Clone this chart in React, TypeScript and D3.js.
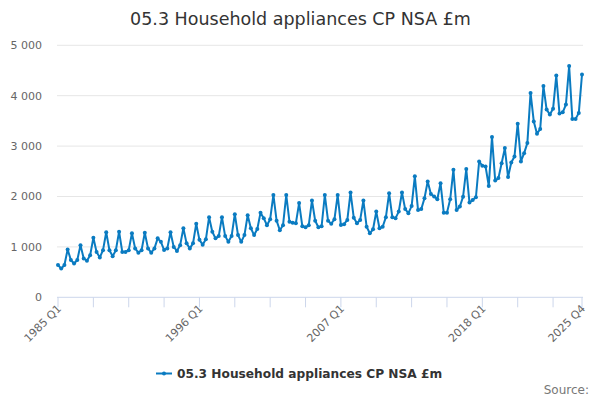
import React from "react";
import * as d3 from "d3";

const years: number[] = d3.range(1985, 2026);
const quarterLabels: string[] = years.flatMap((y) => ["Q1", "Q2", "Q3", "Q4"].map((q) => `${y} ${q}`));

const values: number[] = [
  640, 570, 640, 950,
  740, 670, 740, 1035,
  770, 725, 835, 1180,
  900, 790, 935, 1290,
  935, 815, 935, 1300,
  900, 900, 935, 1270,
  970, 885, 935, 1280,
  970, 885, 970, 1170,
  1100, 940, 970, 1290,
  1000, 920, 1035, 1370,
  1070, 970, 1070, 1460,
  1140, 1045, 1150, 1590,
  1300, 1170, 1215, 1590,
  1215, 1100, 1215, 1650,
  1235, 1100, 1235, 1630,
  1370, 1235, 1355, 1680,
  1570, 1430, 1550, 2030,
  1520, 1330, 1430, 2030,
  1500, 1480, 1470, 1870,
  1410, 1390, 1430, 1920,
  1520, 1390, 1410, 2030,
  1520, 1460, 1550, 2030,
  1435, 1450, 1535, 2080,
  1580, 1470, 1535, 1920,
  1400, 1270, 1350, 1700,
  1370, 1400, 1590, 2065,
  1590, 1570, 1700, 2080,
  1750, 1670, 1810, 2400,
  1730, 1750, 1965, 2300,
  2050, 2000, 1945, 2265,
  1680, 1680, 1945, 2530,
  1730, 1800, 1995, 2545,
  1880, 1930, 1985, 2695,
  2610, 2595, 2210, 3180,
  2315, 2365, 2660, 2960,
  2385, 2675, 2795, 3445,
  2695, 2860, 3060, 4055,
  3490, 3245, 3340, 4190,
  3725, 3625, 3740, 4400,
  3645, 3670, 3825, 4590,
  3540, 3540, 3655, 4420,
];

const yTicks: number[] = [0, 1000, 2000, 3000, 4000, 5000];
const tickIdx: number[] = [...d3.range(0, 164, 11), 163];
const labelIdx: number[] = [0, 44, 88, 132, 163];

const title = "05.3 Household appliances CP NSA £m";
const seriesName = "05.3 Household appliances CP NSA £m";
const color = "#0a7bc1";
const font = "'DejaVu Sans', sans-serif";

export default function App() {
  const x = d3.scaleLinear().domain([0, values.length - 1]).range([58, 582]);
  const y = d3.scaleLinear().domain([0, 5000]).range([297.3, 45.3]);
  const line = d3
    .line<number>()
    .x((_, i) => x(i))
    .y((d) => y(d));
  const fmt = (v: number) => d3.format(",")(v).replace(/,/g, " ");

  return (
    <svg
      width={600}
      height={400}
      style={{ position: "absolute", left: 0, top: 0, fontFamily: font }}
    >
      <rect width={600} height={400} fill="#fff" />
      <text x={300.5} y={25} textAnchor="middle" fontSize={17.5} fill="#333">
        {title}
      </text>
      {yTicks.map((t) => (
        <g key={t}>
          {t > 0 && (
            <line x1={57} x2={583} y1={y(t)} y2={y(t)} stroke="#e6e6e6" strokeWidth={1} />
          )}
          <text x={42} y={y(t)} dy="0.35em" textAnchor="end" fontSize={11} fill="#666">
            {fmt(t)}
          </text>
        </g>
      ))}
      <line x1={57} x2={583} y1={y(0)} y2={y(0)} stroke="#ccd6eb" strokeWidth={1} />
      {tickIdx.map((i) => (
        <line key={i} x1={x(i)} x2={x(i)} y1={y(0)} y2={y(0) + 10} stroke="#ccd6eb" strokeWidth={1} />
      ))}
      {labelIdx.map((i) => (
        <text
          key={i}
          transform={`translate(${x(i) + 4},${y(0) + 12}) rotate(-45)`}
          textAnchor="end"
          fontSize={11}
          fill="#666"
        >
          {quarterLabels[i]}
        </text>
      ))}
      <path d={line(values) ?? ""} fill="none" stroke={color} strokeWidth={2} strokeLinejoin="round" />
      {values.map((v, i) => (
        <circle key={i} cx={x(i)} cy={y(v)} r={2} fill={color} />
      ))}
      <g>
        <line x1={156} x2={172} y1={373.5} y2={373.5} stroke={color} strokeWidth={2} />
        <circle cx={164} cy={373.5} r={2} fill={color} />
        <text x={177} y={377.5} fontSize={12.2} fontWeight="bold" fill="#333">
          {seriesName}
        </text>
      </g>
      <text x={589} y={394} textAnchor="end" fontSize={12} fill="#777">
        Source:
      </text>
    </svg>
  );
}
